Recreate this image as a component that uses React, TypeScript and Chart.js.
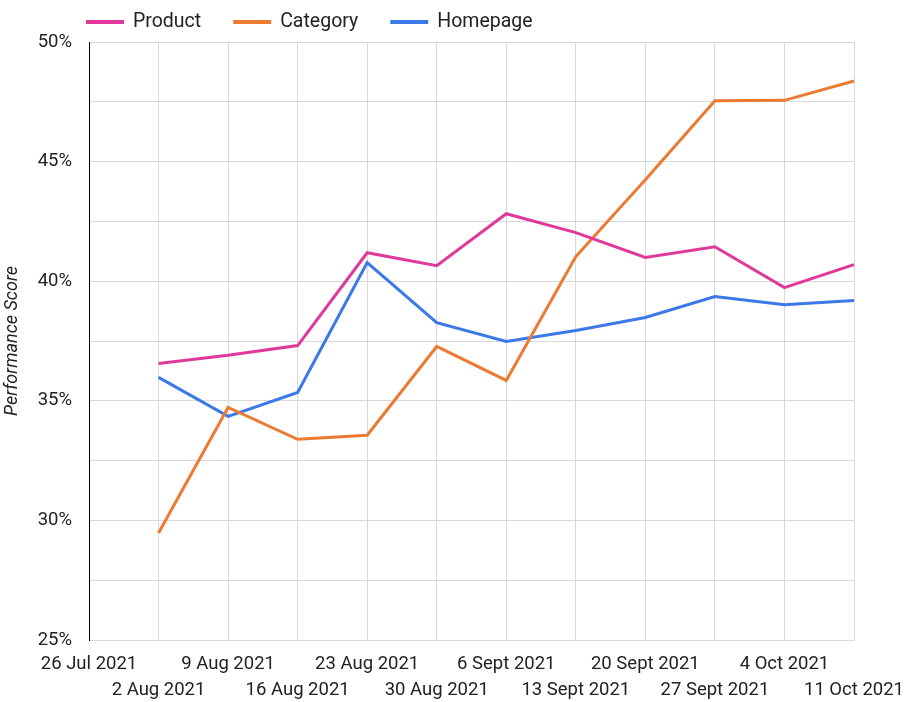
import React, { useEffect, useRef } from "react";
import { Chart, registerables } from "chart.js";

Chart.register(...registerables);

const categories = [
  "26 Jul 2021", "2 Aug 2021", "9 Aug 2021", "16 Aug 2021", "23 Aug 2021", "30 Aug 2021",
  "6 Sept 2021", "13 Sept 2021", "20 Sept 2021", "27 Sept 2021", "4 Oct 2021", "11 Oct 2021",
];
const productValues = [null, 36.56, 36.9, 37.31, 41.19, 40.65, 42.82, 42.03, 40.99, 41.44, 39.73, 40.69];
const categoryValues = [null, 29.47, 34.72, 33.39, 33.56, 37.27, 35.85, 41.03, 44.24, 47.54, 47.56, 48.37];
const homepageValues = [null, 35.98, 34.35, 35.35, 40.78, 38.27, 37.48, 37.94, 38.48, 39.36, 39.02, 39.19];
const seriesNames = ["Product", "Category", "Homepage"];
const seriesColors = ["#e0399b", "#ec7a31", "#3b78e8"];
const yMin = 25;
const yMax = 50;
const yStep = 2.5;
const yLabelStep = 5;
const yTitle = "Performance Score";

const FONT = "Roboto";

const legendPlugin = {
  id: "customLegend",
  afterDraw(chart: any) {
    const ctx = chart.ctx;
    ctx.save();
    ctx.font = `19.5px ${FONT}`;
    ctx.textBaseline = "middle";
    ctx.textAlign = "left";
    let x = 86;
    const y = 22;
    chart.data.datasets.forEach((ds: any) => {
      ctx.strokeStyle = ds.borderColor;
      ctx.lineWidth = 4;
      ctx.beginPath();
      ctx.moveTo(x, y);
      ctx.lineTo(x + 38, y);
      ctx.stroke();
      ctx.fillStyle = "#222";
      ctx.fillText(ds.label, x + 47, y);
      x += 47 + ctx.measureText(ds.label).width + 32;
    });
    ctx.restore();
  },
};

export default function App() {
  const ref = useRef<HTMLCanvasElement>(null);
  useEffect(() => {
    document.body.style.margin = "0";
    const values = [productValues, categoryValues, homepageValues];
    const chart = new Chart(ref.current as HTMLCanvasElement, {
      type: "line",
      data: {
        labels: categories,
        datasets: seriesNames.map((name, i) => ({
          label: name,
          data: values[i],
          borderColor: seriesColors[i],
          backgroundColor: seriesColors[i],
          borderWidth: 3,
          pointRadius: 0,
          tension: 0,
          spanGaps: false,
        })),
      },
      options: {
        animation: false,
        responsive: false,
        layout: { padding: { top: 42, right: 64, left: 0, bottom: 0 } },
        plugins: { legend: { display: false }, tooltip: { enabled: false } },
        scales: {
          x: {
            type: "category",
            offset: false,
            grid: { color: "#d9d9d9", lineWidth: 1, drawTicks: false },
            border: { color: "#d9d9d9" },
            ticks: {
              autoSkip: false,
              maxRotation: 0,
              minRotation: 0,
              padding: 11,
              color: "#222",
              font: { family: FONT, size: 18.5, lineHeight: 1.42 },
              callback: (_v: any, i: number) => (i % 2 === 0 ? [categories[i], ""] : ["", categories[i]]),
            },
            afterFit: (s: any) => { s.height = 62; },
          },
          y: {
            min: yMin,
            max: yMax,
            grid: { color: "#d9d9d9", lineWidth: 1, drawTicks: false },
            border: { color: "#000", width: 1 },
            ticks: {
              stepSize: yStep,
              padding: 17,
              color: "#222",
              font: { family: FONT, size: 18.5 },
              callback: (v: any) => (Math.abs(v % yLabelStep) < 1e-6 ? `${v}%` : ""),
            },
            title: {
              display: true,
              text: yTitle,
              color: "#222",
              font: { family: FONT, size: 18, style: "italic" },
              padding: { top: 2, bottom: 2 },
            },
            afterFit: (s: any) => { s.width = 89; },
          },
        },
      },
      plugins: [legendPlugin],
    });
    return () => chart.destroy();
  }, []);
  return (
    <div style={{ width: 918, height: 702 }}>
      <canvas ref={ref} width={918} height={702} style={{ display: "block" }} />
    </div>
  );
}
